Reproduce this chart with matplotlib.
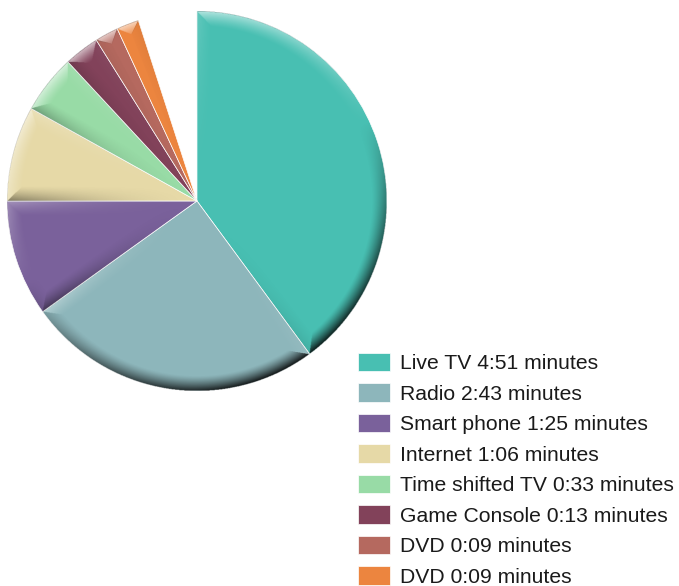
import numpy as np
import matplotlib.pyplot as plt

# ----------- DATA ------------
labels = ['Live TV 4:51 minutes', 'Radio 2:43 minutes', 'Smart phone 1:25 minutes',
          'Internet 1:06 minutes', 'Time shifted TV 0:33 minutes',
          'Game Console 0:13 minutes', 'DVD 0:09 minutes', 'DVD 0:09 minutes']
shares = [39.9, 25.2, 9.9, 8.1, 5.0, 3.0, 2.0, 1.9]   # percent of full circle
colors = ['#48BFB2', '#8DB6BB', '#7A619B', '#E6D9A7', '#98DBA6', '#82425A', '#B5695F', '#EC853F']
# -----------------------------

plt.rcParams['font.family'] = ['Liberation Sans', 'DejaVu Sans']

fig = plt.figure(figsize=(6.79, 5.86), dpi=100)
ax = fig.add_axes([0.0103, 0.3328, 0.5596, 0.6485])

wedges, _ = ax.pie(np.array(shares) / 100, colors=colors, startangle=90,
                   counterclock=False, normalize=False,
                   wedgeprops=dict(edgecolor='white', linewidth=0.5))

# bevel shading: light from the upper left, shadow to the lower right
N = 900
xs = np.linspace(-1, 1, N)
X, Y = np.meshgrid(xs, xs)
R = np.hypot(X, Y)
PHI = np.degrees(np.arctan2(Y, X))
light = np.array([np.cos(np.radians(115)), np.sin(np.radians(115))])
bw = 0.08

rgba = np.zeros((N, N, 4))
for w in wedges:
    t1, t2 = w.theta1, w.theta2
    span = t2 - t1
    rel = (PHI - t1) % 360
    inside = (rel < span) & (R <= 1)

    d_arc = 1 - R
    d1 = np.where(rel < 90, R * np.sin(np.radians(rel)), R)
    d2 = np.where(span - rel < 90, R * np.sin(np.radians(span - rel)), R)

    a1, a2 = np.radians(t1), np.radians(t2)
    s_arc = np.cos(np.radians(PHI)) * light[0] + np.sin(np.radians(PHI)) * light[1]
    s1 = np.sin(a1) * light[0] - np.cos(a1) * light[1]
    s2 = -np.sin(a2) * light[0] + np.cos(a2) * light[1]

    d = np.minimum(np.minimum(d_arc, d1), d2)
    s = np.where(d == d_arc, s_arc, np.where(d == d1, s1, s2))
    fade = np.where(d == d_arc, 1.0, np.clip(R, 0, 1) ** 2 * 0.55)
    p = np.clip(1 - d / bw, 0, 1) ** 1.3 * fade

    alpha = np.where(s > 0, 0.65 * s, 0.92 * (-s)) * p
    val = np.where(s > 0, 1.0, 0.02)
    for c in range(3):
        rgba[..., c] = np.where(inside, val, rgba[..., c])
    rgba[..., 3] = np.where(inside, alpha, rgba[..., 3])

ax.imshow(rgba, extent=[-1, 1, -1, 1], origin='lower', interpolation='bilinear', zorder=3)
ax.set_xlim(-1, 1)
ax.set_ylim(-1, 1)
ax.set_aspect('equal')
ax.axis('off')

fig.legend(wedges, labels, loc='upper left', bbox_to_anchor=(358 / 679, 1 - 353 / 586),
           frameon=False, fontsize=15.2, borderpad=0, borderaxespad=0,
           handlelength=1.5, handleheight=0.95, handletextpad=0.5, labelspacing=0.48,
           labelcolor='#1a1a1a')

fig.savefig('out.png', dpi=100)
